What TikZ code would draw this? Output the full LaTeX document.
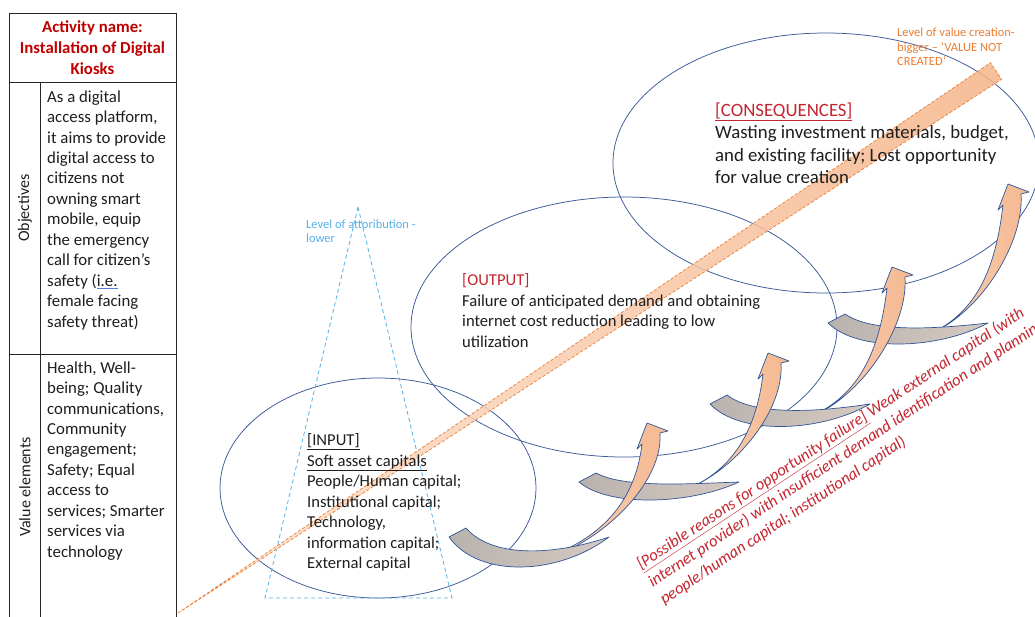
\documentclass[tikz,border=0pt]{standalone}
\usepackage{fontspec}
\setmainfont{Carlito}
\usetikzlibrary{shapes.geometric}
\definecolor{ellblue}{RGB}{59,89,152}
\definecolor{darkred}{RGB}{192,0,0}
\definecolor{txtred}{RGB}{196,38,48}
\definecolor{bandline}{RGB}{237,125,49}
\definecolor{bandlight}{RGB}{252,226,208}
\definecolor{banddark}{RGB}{245,180,136}
\definecolor{triblue}{RGB}{86,178,232}
\definecolor{arrline}{RGB}{47,85,151}
\definecolor{arrlo}{RGB}{251,218,196}
\definecolor{arrhi}{RGB}{244,184,144}
\definecolor{graylo}{RGB}{184,178,174}
\definecolor{grayhi}{RGB}{214,202,194}
\definecolor{txt}{RGB}{30,30,30}
\definecolor{spellblue}{RGB}{90,120,220}
\newcommand{\fsz}[2]{\fontsize{#1}{#2}\selectfont}
\newsavebox{\spellbox}
\newcommand{\spellul}[1]{\sbox{\spellbox}{#1}\rlap{\textcolor{spellblue}{\rule[-0.3ex]{\wd\spellbox}{0.7pt}}}\usebox{\spellbox}}
\tikzset{
  ell/.style={ellipse, draw=ellblue, line width=0.75pt, inner sep=0pt},
  tbl/.style={draw=black!85, line width=0.9pt},
  tri/.style={draw=triblue, dash pattern=on 4pt off 3pt, line width=0.8pt},
  band/.style={draw=bandline, dash pattern=on 3pt off 2pt, line width=0.7pt, left color=bandlight, right color=banddark, fill opacity=0.85},
  arrbody/.style={draw=arrline, line width=0.7pt, left color=arrlo, right color=arrhi, line join=round},
  arrback/.style={draw=arrline, line width=0.7pt, left color=graylo, right color=grayhi, line join=round},
  txtnode/.style={inner sep=0pt, text=txt},
  reason/.style={inner sep=0pt, text=txtred, font=\itshape\fsz{16.6}{21}, rotate=33.5, anchor=base west}
}
\newcommand{\kioskarrow}[5]{%
  \begin{scope}[shift={(#1,#2)}]
    \pgfmathsetmacro\kax{#3}\pgfmathsetmacro\kay{#4}\pgfmathsetmacro\kaf{#5}
    \path[arrbody] (70,28*\kaf) .. controls (140,20*\kaf) and (\kax+17,\kay+64) .. (\kax+13,\kay+10)
      -- (\kax+21,\kay+8) -- (\kax,\kay) -- (\kax-10,\kay+26) -- (\kax-5,\kay+21)
      .. controls (\kax-12,\kay+80) and (150,10*\kaf) .. cycle;
    \path[arrback] (0,0) .. controls (30,42*\kaf) and (110,38*\kaf) .. (160,0)
      .. controls (110,38*\kaf-21) and (45,42*\kaf-19) .. (17,-9) -- cycle;
  \end{scope}}
\begin{document}
\begin{tikzpicture}[x=1pt,y=-1pt]
\fill[white] (0,0) rectangle (1035,616);
\useasboundingbox (0,0) rectangle (1035,616);

% left table
\draw[tbl] (9,13) rectangle (176,640);
\draw[tbl] (9,82) -- (176,82);
\draw[tbl] (9,354) -- (176,354);
\draw[tbl] (40,82) -- (40,640);
\node[txtnode, text=darkred, font=\bfseries\fsz{16.8}{21}, align=center] (title) at (92.5,48) {Activity name:\\Installation of Digital\\Kiosks};
\node[txtnode, rotate=90, font=\fsz{16}{19}] (objlabel) at (25,208) {Objectives};
\node[txtnode, rotate=90, font=\fsz{16}{19}] (vallabel) at (25,487) {Value elements};
\node[txtnode, anchor=north west, align=left, font=\fsz{16.8}{20.45}] (objtext) at (47,90.3)
  {As a digital\\access platform,\\it aims to provide\\digital access to\\citizens not\\owning smart\\mobile, equip\\the emergency\\call for citizen’s\\safety (\spellul{i.e.}\\female facing\\safety threat)};
\node[txtnode, anchor=north west, align=left, font=\fsz{16.8}{20.45}] (valtext) at (47,361.3)
  {Health, Well-\\being; Quality\\communications,\\Community\\engagement;\\Safety; Equal\\access to\\services; Smarter\\services via\\technology};

% ellipses
\node[ell, minimum width=316pt, minimum height=220pt] (einput) at (378,488) {};
\node[ell, minimum width=426pt, minimum height=260pt] (eoutput) at (624,327) {};
\node[ell, minimum width=426pt, minimum height=260pt] (econs) at (826,163) {};

% attribution triangle
\coordinate (triapex) at (358,207);
\coordinate (triright) at (452,598);
\coordinate (trileft) at (265,598);
\draw[tri] (triapex) -- (triright) -- (trileft) -- cycle;

% value creation band
\coordinate (bandtail) at (178,613);
\coordinate (bandtipA) at (990.5,62.7);
\coordinate (bandtipB) at (1001.5,79.3);
\path[band] (bandtail) -- (bandtipA) -- (bandtipB) -- cycle;

% curved arrows
\kioskarrow{828}{323}{180}{-139}{0.7}
\kioskarrow{710}{404}{182}{-137}{0.75}
\kioskarrow{579}{482}{189}{-129}{0.6}
\kioskarrow{449}{537}{198}{-114}{1}

% texts
\node[txtnode, anchor=north west, align=left, font=\fsz{16.6}{20.5}] (input) at (307,433.3)
  {\underline{[INPUT]}\\\underline{Soft asset capitals}\\People/Human capital;\\Institutional capital;\\Technology,\\information capital;\\External capital};
\node[txtnode, anchor=north west, align=left, font=\fsz{16.6}{20.7}] (output) at (462,273.3)
  {\textcolor{txtred}{[OUTPUT]}\\Failure of anticipated demand and obtaining\\internet cost reduction leading to low\\utilization};
\node[txtnode, anchor=north west, align=left, font=\fsz{18.8}{22.5}] (consequences) at (715,102.5)
  {\textcolor{txtred}{\underline{[CONSEQUENCES]}}\\Wasting investment materials, budget,\\and existing facility; Lost opportunity\\for value creation};
\node[txtnode, anchor=north west, align=left, text=triblue, font=\fsz{12.5}{13.5}] (attrib) at (306,220)
  {Level of attoribution -\\lower};
\node[txtnode, anchor=north west, align=left, text=bandline, font=\fsz{12.5}{14.5}] (valcreate) at (897,28)
  {Level of value creation-\\bigger – ‘VALUE NOT\\CREATED’};
\node[reason] (reason1) at (641,570) {\underline{[Possible reasons for opportunity failure]} Weak external capital (with};
\node[reason] (reason2) at (652.6,587.5) {internet provider) with insufficient demand identification and planning};
\node[reason] (reason3) at (664.2,605) {people/human capital; institutional capital)};
\end{tikzpicture}
\end{document}
